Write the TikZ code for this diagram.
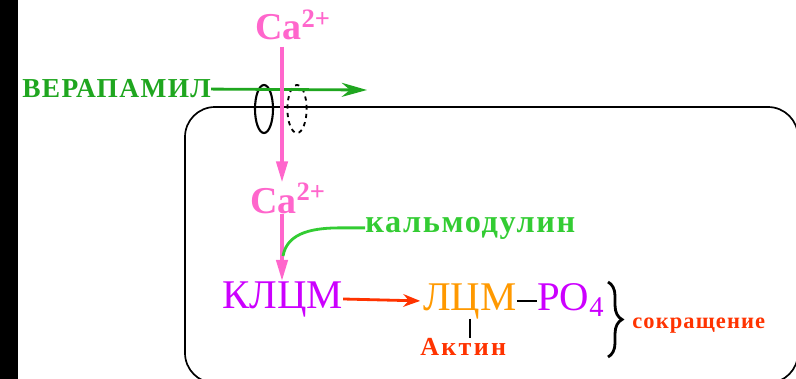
\documentclass[tikz,border=0pt]{standalone}
\usepackage{fontspec}
\setmainfont{Liberation Serif}
\usetikzlibrary{arrows.meta, decorations.pathreplacing, calc}
\definecolor{capink}{HTML}{FF66CC}
\definecolor{kinase}{HTML}{CC00FF}
\definecolor{chain}{HTML}{FF9900}
\definecolor{redline}{HTML}{FF3300}
\definecolor{drug}{HTML}{1FA61F}
\definecolor{calm}{HTML}{33CC33}

\begin{document}
\begin{tikzpicture}[
  lbl/.style={anchor=base west, inner sep=0pt},
  big/.style={font=\fontsize{29}{32}\selectfont},
  bigbold/.style={font=\fontsize{27}{30}\selectfont\bfseries},
  ionflow/.style={capink, line width=2.5pt, -{Triangle[length=15pt,width=8pt]}},
  bond/.style={black, line width=2pt}
]
  \useasboundingbox (0,0) rectangle (19.9,-9.475);
  \fill[black] (0,0) rectangle (0.45,-9.475);
  % Cell outline
  \draw[line width=1.2pt, rounded corners=0.75cm]
    (4.625,-2.675) rectangle (19.95,-9.575);
  % Ca channel
  \draw[line width=1.5pt] (6.6,-2.725) ellipse (0.225 and 0.6);
  \draw[line width=1.3pt, dashed] (7.425,-2.725) ellipse (0.24 and 0.6);
  \coordinate (pore) at (7.05,-2.725);
  % Labels
  \node[lbl, bigbold, capink] (catop) at (6.375,-1.0) {Ca\textsuperscript{2+}};
  \node[lbl, bigbold, capink] (camid) at (6.25,-5.325) {Ca\textsuperscript{2+}};
  \node[lbl, drug, font=\fontsize{19.5}{22}\selectfont\bfseries\addfontfeatures{LetterSpace=5}]
    (vera) at (0.55,-2.45) {ВЕРАПАМИЛ};
  \node[lbl, calm, font=\fontsize{23}{26}\selectfont\bfseries\addfontfeatures{LetterSpace=5}]
    (kalm) at (9.125,-5.8) {кальмодулин};
  \node[lbl, big, kinase] (klcm) at (5.55,-7.7) {КЛЦМ};
  \node[lbl, big, chain] (lcm) at (10.575,-7.75) {ЛЦМ};
  \node[lbl, big, kinase] (po) at (13.425,-7.75) {PO\textsubscript{4}};
  \node[lbl, redline, font=\fontsize{18.5}{21}\selectfont\bfseries\addfontfeatures{LetterSpace=9}]
    (actin) at (10.5,-8.875) {Актин};
  \node[lbl, redline, font=\fontsize{16}{19}\selectfont\bfseries\addfontfeatures{LetterSpace=5}]
    (contr) at (15.8,-8.2) {сокращение};
  % Connectors
  \coordinate (veraend) at (9.175,-2.25);
  \draw[drug, line width=2pt, -{Stealth[length=18pt,width=10pt]}] (vera.east) -- (veraend);
  \draw[ionflow] ([yshift=-0.15cm]catop.south -| pore) -- (camid.north -| pore);
  \draw[ionflow] (camid.south -| pore) -- (klcm.north -| pore);
  \coordinate (bind) at (7.075,-6.4);
  \draw[calm, line width=2pt] (bind) to[out=80,in=180] ($(kalm.west)+(-0.6,0)$) -- (kalm.west);
  \draw[redline, line width=2pt, -{Stealth[length=12pt,width=9pt]}, shorten >=2pt]
    (klcm.east) -- (lcm.west);
  \draw[bond] (lcm.east) -- (lcm.east -| po.west);
  \draw[bond] (lcm.south) -- (lcm.south |- actin.north);
  \draw[line width=2pt, decorate, decoration={brace, amplitude=10pt}]
    (15.2,-7.05) -- (15.2,-8.925);
\end{tikzpicture}
\end{document}
